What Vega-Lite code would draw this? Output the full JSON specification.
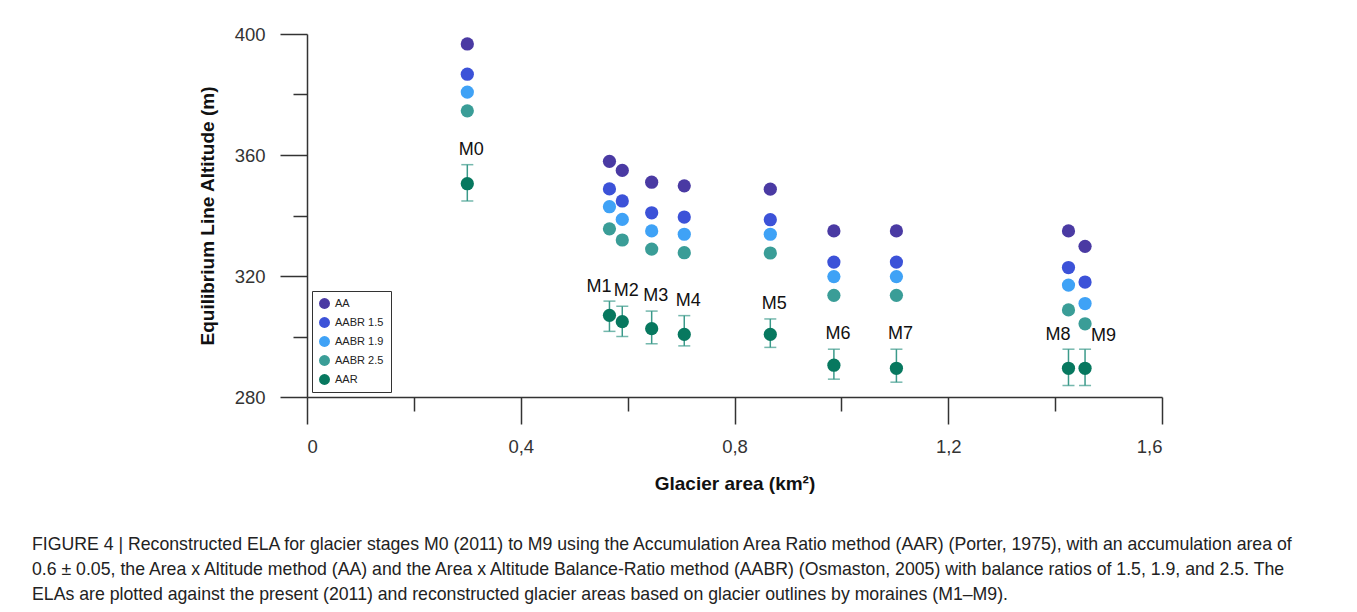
{
  "$schema": "https://vega.github.io/schema/vega-lite/v6.json",
  "width": 855,
  "height": 363,
  "autosize": "none",
  "padding": {"left": 307, "top": 34, "right": 195, "bottom": 215},
  "background": "white",
  "config": {
    "view": {"stroke": null},
    "font": "Liberation Sans",
    "axis": {"grid": false, "domainColor": "#333", "domainWidth": 1.5, "tickColor": "#333", "tickWidth": 1.5, "labelColor": "#333", "labelFont": "Liberation Sans", "labelFontSize": 18.5, "titleFont": "Liberation Sans", "titleFontSize": 19, "titleFontWeight": "bold", "titleColor": "#111"}
  },
  "title": {
    "text": [
      "FIGURE 4 | Reconstructed ELA for glacier stages M0 (2011) to M9 using the Accumulation Area Ratio method (AAR) (Porter, 1975), with an accumulation area of",
      "0.6 ± 0.05, the Area x Altitude method (AA) and the Area x Altitude Balance-Ratio method (AABR) (Osmaston, 2005) with balance ratios of 1.5, 1.9, and 2.5. The",
      "ELAs are plotted against the present (2011) and reconstructed glacier areas based on glacier outlines by moraines (M1–M9)."
    ],
    "orient": "bottom",
    "anchor": "start",
    "frame": "group",
    "dx": -275,
    "offset": 42,
    "font": "Liberation Sans",
    "fontSize": 17.7,
    "fontWeight": "normal",
    "color": "#222",
    "lineHeight": 25
  },
  "datasets": {
    "ela": [
      {"stage": "M0", "area": 0.300, "method": "AA", "ela": 396.7},
      {"stage": "M0", "area": 0.300, "method": "AABR 1.5", "ela": 386.7},
      {"stage": "M0", "area": 0.300, "method": "AABR 1.9", "ela": 380.8},
      {"stage": "M0", "area": 0.300, "method": "AABR 2.5", "ela": 374.6},
      {"stage": "M0", "area": 0.300, "method": "AAR", "ela": 350.5, "lo": 344.8, "hi": 356.8},
      {"stage": "M1", "area": 0.566, "method": "AA", "ela": 357.9},
      {"stage": "M1", "area": 0.566, "method": "AABR 1.5", "ela": 348.8},
      {"stage": "M1", "area": 0.566, "method": "AABR 1.9", "ela": 342.9},
      {"stage": "M1", "area": 0.566, "method": "AABR 2.5", "ela": 335.6},
      {"stage": "M1", "area": 0.566, "method": "AAR", "ela": 307.0, "lo": 301.7, "hi": 311.7},
      {"stage": "M2", "area": 0.590, "method": "AA", "ela": 354.9},
      {"stage": "M2", "area": 0.590, "method": "AABR 1.5", "ela": 344.8},
      {"stage": "M2", "area": 0.590, "method": "AABR 1.9", "ela": 338.7},
      {"stage": "M2", "area": 0.590, "method": "AABR 2.5", "ela": 331.9},
      {"stage": "M2", "area": 0.590, "method": "AAR", "ela": 304.9, "lo": 300.0, "hi": 310.0},
      {"stage": "M3", "area": 0.645, "method": "AA", "ela": 351.0},
      {"stage": "M3", "area": 0.645, "method": "AABR 1.5", "ela": 340.9},
      {"stage": "M3", "area": 0.645, "method": "AABR 1.9", "ela": 334.9},
      {"stage": "M3", "area": 0.645, "method": "AABR 2.5", "ela": 328.9},
      {"stage": "M3", "area": 0.645, "method": "AAR", "ela": 302.6, "lo": 297.6, "hi": 308.4},
      {"stage": "M4", "area": 0.706, "method": "AA", "ela": 349.8},
      {"stage": "M4", "area": 0.706, "method": "AABR 1.5", "ela": 339.5},
      {"stage": "M4", "area": 0.706, "method": "AABR 1.9", "ela": 333.8},
      {"stage": "M4", "area": 0.706, "method": "AABR 2.5", "ela": 327.7},
      {"stage": "M4", "area": 0.706, "method": "AAR", "ela": 300.7, "lo": 296.9, "hi": 306.9},
      {"stage": "M5", "area": 0.867, "method": "AA", "ela": 348.7},
      {"stage": "M5", "area": 0.867, "method": "AABR 1.5", "ela": 338.6},
      {"stage": "M5", "area": 0.867, "method": "AABR 1.9", "ela": 333.8},
      {"stage": "M5", "area": 0.867, "method": "AABR 2.5", "ela": 327.6},
      {"stage": "M5", "area": 0.867, "method": "AAR", "ela": 300.7, "lo": 296.4, "hi": 305.8},
      {"stage": "M6", "area": 0.986, "method": "AA", "ela": 334.9},
      {"stage": "M6", "area": 0.986, "method": "AABR 1.5", "ela": 324.6},
      {"stage": "M6", "area": 0.986, "method": "AABR 1.9", "ela": 319.8},
      {"stage": "M6", "area": 0.986, "method": "AABR 2.5", "ela": 313.6},
      {"stage": "M6", "area": 0.986, "method": "AAR", "ela": 290.5, "lo": 285.9, "hi": 295.8},
      {"stage": "M7", "area": 1.103, "method": "AA", "ela": 334.9},
      {"stage": "M7", "area": 1.103, "method": "AABR 1.5", "ela": 324.6},
      {"stage": "M7", "area": 1.103, "method": "AABR 1.9", "ela": 319.8},
      {"stage": "M7", "area": 1.103, "method": "AABR 2.5", "ela": 313.6},
      {"stage": "M7", "area": 1.103, "method": "AAR", "ela": 289.5, "lo": 284.9, "hi": 295.8},
      {"stage": "M8", "area": 1.425, "method": "AA", "ela": 334.9},
      {"stage": "M8", "area": 1.425, "method": "AABR 1.5", "ela": 322.8},
      {"stage": "M8", "area": 1.425, "method": "AABR 1.9", "ela": 317.0},
      {"stage": "M8", "area": 1.425, "method": "AABR 2.5", "ela": 308.8},
      {"stage": "M8", "area": 1.425, "method": "AAR", "ela": 289.5, "lo": 283.8, "hi": 295.8},
      {"stage": "M9", "area": 1.456, "method": "AA", "ela": 329.8},
      {"stage": "M9", "area": 1.456, "method": "AABR 1.5", "ela": 318.0},
      {"stage": "M9", "area": 1.456, "method": "AABR 1.9", "ela": 310.9},
      {"stage": "M9", "area": 1.456, "method": "AABR 2.5", "ela": 304.2},
      {"stage": "M9", "area": 1.456, "method": "AAR", "ela": 289.5, "lo": 283.8, "hi": 295.8}
    ]
  },
  "data": {"name": "ela"},
  "encoding": {
    "x": {
      "field": "area", "type": "quantitative",
      "scale": {"domain": [0, 1.6], "nice": false, "zero": true},
      "axis": {
        "title": "Glacier area (km²)",
        "values": [0, 0.2, 0.4, 0.6, 0.8, 1.0, 1.2, 1.4, 1.6],
        "tickSize": {"condition": {"test": "round(datum.value*10) % 4 === 0", "value": 27}, "value": 14},
        "labelExpr": "round(datum.value*10) % 4 === 0 ? replace(format(datum.value, '~g'), '.', ',') : ''",
        "labelPadding": 13,
        "titlePadding": 19
      }
    }
  },
  "layer": [
    {
      "transform": [{"filter": "datum.method === 'AAR'"}],
      "mark": {"type": "rule", "strokeWidth": 1.5, "color": "#3b9a8a"},
      "encoding": {
        "y": {"field": "lo", "type": "quantitative", "scale": {"domain": [280, 400], "nice": false, "zero": false}},
        "y2": {"field": "hi"}
      }
    },
    {
      "transform": [{"filter": "datum.method === 'AAR'"}],
      "mark": {"type": "tick", "orient": "horizontal", "size": 12, "thickness": 1.5, "color": "#3b9a8a"},
      "encoding": {"y": {"field": "lo", "type": "quantitative"}}
    },
    {
      "transform": [{"filter": "datum.method === 'AAR'"}],
      "mark": {"type": "tick", "orient": "horizontal", "size": 12, "thickness": 1.5, "color": "#3b9a8a"},
      "encoding": {"y": {"field": "hi", "type": "quantitative"}}
    },
    {
      "mark": {"type": "point", "filled": true, "opacity": 1, "size": 175},
      "encoding": {
        "y": {
          "field": "ela", "type": "quantitative",
          "scale": {"domain": [280, 400], "nice": false, "zero": false},
          "axis": {
            "title": "Equilibrium Line Altitude (m)",
            "values": [280, 300, 320, 340, 360, 380, 400],
            "tickSize": {"condition": {"test": "datum.value % 40 === 0", "value": 27}, "value": 14},
            "labelExpr": "datum.value % 40 === 0 ? datum.label : ''",
            "labelPadding": 15,
            "titlePadding": 17
          }
        },
        "color": {
          "field": "method", "type": "nominal",
          "scale": {"domain": ["AA", "AABR 1.5", "AABR 1.9", "AABR 2.5", "AAR"], "range": ["#4a3aa3", "#3c52d8", "#3fa2f6", "#3a9d97", "#07785f"]},
          "legend": {
            "title": null,
            "orient": "bottom-left",
            "offset": 5,
            "padding": 7,
            "strokeColor": "#333",
            "fillColor": "white",
            "symbolType": "circle",
            "symbolSize": 120,
            "symbolStrokeWidth": 0,
            "rowPadding": 7,
            "labelFontSize": 11,
            "labelColor": "#222",
            "labelFont": "Liberation Sans",
            "labelOffset": 5
          }
        }
      }
    },
    {
      "transform": [{"filter": "datum.method === 'AAR' && datum.stage !== 'M1' && datum.stage !== 'M8' && datum.stage !== 'M9'"}],
      "mark": {"type": "text", "align": "center", "baseline": "middle", "dx": 4, "dy": -15, "fontSize": 18, "color": "#111"},
      "encoding": {"y": {"field": "hi", "type": "quantitative"}, "text": {"field": "stage"}}
    },
    {
      "transform": [{"filter": "datum.method === 'AAR' && (datum.stage === 'M1' || datum.stage === 'M8')"}],
      "mark": {"type": "text", "align": "right", "baseline": "middle", "dx": 2, "dy": -14, "fontSize": 18, "color": "#111"},
      "encoding": {"y": {"field": "hi", "type": "quantitative"}, "text": {"field": "stage"}}
    },
    {
      "transform": [{"filter": "datum.method === 'AAR' && datum.stage === 'M9'"}],
      "mark": {"type": "text", "align": "left", "baseline": "middle", "dx": 6, "dy": -13, "fontSize": 18, "color": "#111"},
      "encoding": {"y": {"field": "hi", "type": "quantitative"}, "text": {"field": "stage"}}
    }
  ]
}
